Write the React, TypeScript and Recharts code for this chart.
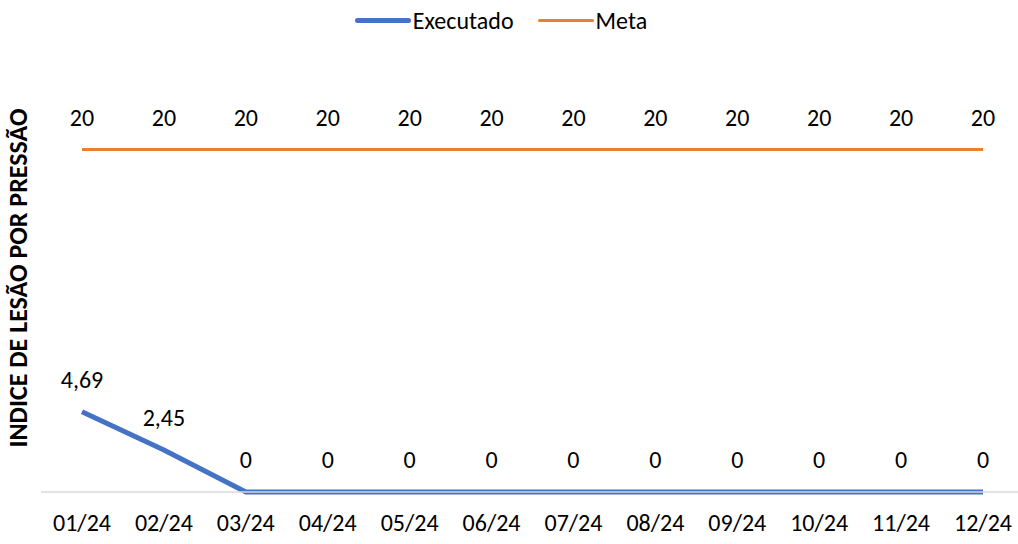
import React from 'react';
import { LineChart, Line, XAxis, YAxis, LabelList } from 'recharts';

const months = ['01/24', '02/24', '03/24', '04/24', '05/24', '06/24', '07/24', '08/24', '09/24', '10/24', '11/24', '12/24'];
const executado = [4.69, 2.45, 0, 0, 0, 0, 0, 0, 0, 0, 0, 0];
const meta = [20, 20, 20, 20, 20, 20, 20, 20, 20, 20, 20, 20];

const data = months.map((m, i) => ({ month: m, executado: executado[i], meta: meta[i] }));

const FONT = 'Carlito, Calibri, Lato, sans-serif';
const BLUE = '#4472C4';
const ORANGE = '#ED7D31';

const fmt = (v: number) => String(v).replace('.', ',');

function LegendBox() {
  const items = [
    { label: 'Executado', color: BLUE, width: 5 },
    { label: 'Meta', color: ORANGE, width: 3 },
  ];
  return (
    <div style={{ position: 'absolute', top: 6, left: 0, width: 1018, display: 'flex', justifyContent: 'center', fontFamily: FONT, fontSize: 24, color: '#000', paddingLeft: 4 }}>
      {items.map((it) => (
        <div key={it.label} style={{ display: 'flex', alignItems: 'center', marginRight: 24 }}>
          <span style={{ display: 'inline-block', width: 56, height: it.width, background: it.color, borderRadius: 3, marginRight: 2 }} />
          <span>{it.label}</span>
        </div>
      ))}
    </div>
  );
}

export default function App() {
  return (
    <div style={{ position: 'absolute', left: 0, top: 0, width: 1018, height: 544, overflow: 'hidden', background: '#fff' }}>
      <LineChart width={1030} height={544} data={data} margin={{ top: 64, right: 6, left: 0, bottom: 22 }}>
        <XAxis
          dataKey="month"
          axisLine={{ stroke: '#D9D9D9', strokeWidth: 1.5 }}
          tickLine={false}
          tickMargin={16}
          padding={{ left: 41, right: 41 }}
          tick={{ fill: '#000', fontSize: 24, fontFamily: FONT }}
          interval={0}
        />
        <YAxis
          domain={[0, 25]}
          width={41}
          tick={false}
          axisLine={false}
          tickLine={false}
        />
        <text
          x={18}
          y={278}
          transform="rotate(-90, 18, 278)"
          textAnchor="middle"
          dominantBaseline="central"
          style={{ fontFamily: FONT, fontSize: 26, fontWeight: 700, fill: '#000' }}
        >
          INDICE DE LESÃO POR PRESSÃO
        </text>
        <Line type="linear" dataKey="executado" stroke={BLUE} strokeWidth={5} dot={false} isAnimationActive={false}>
          <LabelList dataKey="executado" position="top" offset={24} formatter={fmt} style={{ fontFamily: FONT, fontSize: 24, fill: '#000' }} />
        </Line>
        <Line type="linear" dataKey="meta" stroke={ORANGE} strokeWidth={3} dot={false} isAnimationActive={false}>
          <LabelList dataKey="meta" position="top" offset={24} formatter={fmt} style={{ fontFamily: FONT, fontSize: 24, fill: '#000' }} />
        </Line>
      </LineChart>
      <LegendBox />
    </div>
  );
}
